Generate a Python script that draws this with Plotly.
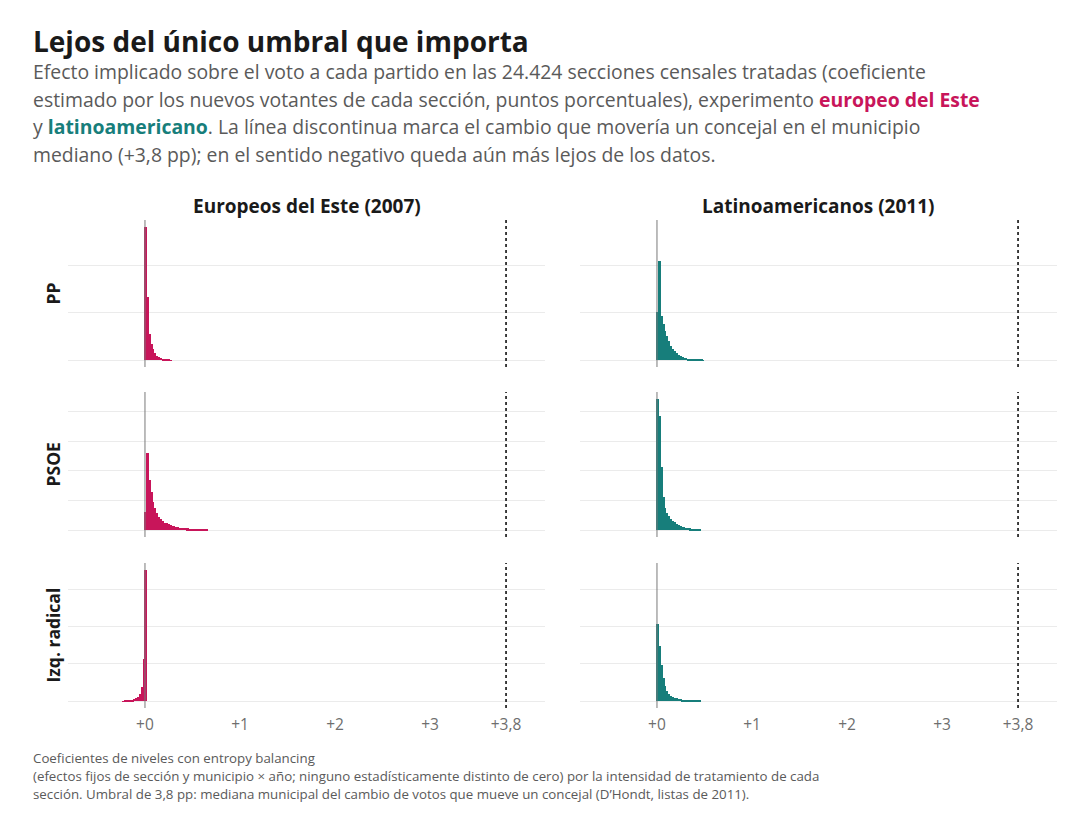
import plotly.graph_objects as go

# ---------------- DATA ----------------
ANCHO_BIN = 0.02  # pp
columnas = ["Europeos del Este (2007)", "Latinoamericanos (2011)"]
filas = ["PP", "PSOE", "Izq. radical"]

# counts of sections per bin (bins of 0.02 pp starting at *_inicio)
pp_este_inicio = 0.0
pp_este = [5640, 2690, 1100, 670, 460, 300, 170, 125, 85, 60, 40, 30, 20, 12]
pp_latam_inicio = 0.0
pp_latam = [2020, 4210, 1850, 1520, 1220, 1010, 800, 590, 460, 380, 295, 210,
            170, 125, 105, 85, 65, 50, 42, 34, 30, 25, 21, 17, 12]
psoe_este_inicio = 0.0
psoe_este = [630, 2600, 1700, 1300, 965, 765, 600, 465, 400, 300, 265, 233, 200,
             167, 150, 133, 117, 100, 93, 87, 80, 73, 67, 63, 60, 57, 53, 50, 47,
             43, 40, 33, 27]
psoe_latam_inicio = 0.0
psoe_latam = [4430, 3830, 2130, 1130, 765, 600, 500, 400, 333, 267, 217, 167, 133,
              117, 100, 83, 73, 67, 57, 50, 40, 33, 23]
izq_este_inicio = -0.24
izq_este = [10, 16, 22, 28, 36, 48, 62, 80, 107, 187, 375, 1120, 3520]
izq_latam_inicio = 0.0
izq_latam = [2055, 1470, 960, 615, 400, 280, 200, 147, 120, 93, 80, 69, 59, 51,
             43, 37, 32, 29, 27, 24, 19, 16, 13]

umbral = 3.8
x_ticks = [0, 1, 2, 3, 3.8]
x_tick_labels = ["+0", "+1", "+2", "+3", "+3,8"]
y_dtick = [2000, 1000, 1000]

paneles = [
    [(pp_este_inicio, pp_este), (pp_latam_inicio, pp_latam)],
    [(psoe_este_inicio, psoe_este), (psoe_latam_inicio, psoe_latam)],
    [(izq_este_inicio, izq_este), (izq_latam_inicio, izq_latam)],
]
colores = ["#C8155A", "#177E7B"]

# ---------------- LAYOUT HELPERS ----------------
W, H = 1092, 824
FONT = "Open Sans"


def fx(px):
    return px / W


def fy(px):
    return 1 - px / H


col_dom = [(68, 545), (580, 1057)]
row_dom = [(220, 367), (392, 537), (563, 708)]
x_range = [-0.81, 4.21]

fig = go.Figure()
layout = {}
shapes = []
annotations = []

for r in range(3):
    row_max = max(max(paneles[r][c][1]) for c in range(2))
    yr = [-0.05 * row_max, 1.05 * row_max]
    for c in range(2):
        idx = r * 2 + c + 1
        xn = "x" if idx == 1 else f"x{idx}"
        yn = "y" if idx == 1 else f"y{idx}"
        inicio, cuentas = paneles[r][c]
        centros = [inicio + (i + 0.5) * ANCHO_BIN for i in range(len(cuentas))]
        fig.add_trace(go.Bar(
            x=centros, y=cuentas, width=ANCHO_BIN,
            marker=dict(color=colores[c], line=dict(width=0)),
            xaxis=xn, yaxis=yn, showlegend=False, hoverinfo="skip",
        ))
        layout["xaxis" if idx == 1 else f"xaxis{idx}"] = dict(
            domain=[fx(col_dom[c][0]), fx(col_dom[c][1])],
            anchor=yn, range=x_range, showgrid=False, zeroline=False,
            tickvals=x_ticks, ticktext=x_tick_labels, showticklabels=(r == 2),
            tickfont=dict(family=FONT, size=15.5, color="#6e6e6e"), ticks="",
            showline=False, ticklabelstandoff=5,
        )
        layout["yaxis" if idx == 1 else f"yaxis{idx}"] = dict(
            domain=[fy(row_dom[r][1]), fy(row_dom[r][0])],
            anchor=xn, range=yr, showgrid=True, gridcolor="#EBEBEB",
            gridwidth=1, zeroline=False, tick0=0, dtick=y_dtick[r],
            showticklabels=False, ticks="", showline=False,
        )
        # zero line
        shapes.append(dict(type="line", xref=xn, yref=f"{yn} domain",
                           x0=0, x1=0, y0=0, y1=1, layer="above",
                           line=dict(color="#7a7a7a", width=1)))
        # threshold
        shapes.append(dict(type="line", xref=xn, yref=f"{yn} domain",
                           x0=umbral, x1=umbral, y0=0, y1=1, layer="above",
                           line=dict(color="#111111", width=1.6, dash="dot")))

# facet titles
for c in range(2):
    annotations.append(dict(
        text=f"<b>{columnas[c]}</b>", x=fx((col_dom[c][0] + col_dom[c][1]) / 2),
        y=fy(206), xref="paper", yref="paper", xanchor="center", yanchor="middle",
        showarrow=False, font=dict(family=FONT, size=19, color="#1a1a1a")))
# row labels
for r in range(3):
    annotations.append(dict(
        text=f"<b>{filas[r]}</b>", x=fx(52), y=fy((row_dom[r][0] + row_dom[r][1]) / 2),
        xref="paper", yref="paper", xanchor="center", yanchor="middle",
        textangle=-90, showarrow=False,
        font=dict(family=FONT, size=17.5, color="#1a1a1a")))

# title + subtitle
annotations.append(dict(
    text="<b>Lejos del único umbral que importa</b>", x=fx(31), y=fy(41),
    xref="paper", yref="paper", xanchor="left", yanchor="middle", showarrow=False,
    font=dict(family=FONT, size=28, color="#1a1a1a")))
sub_lines = [
    "Efecto implicado sobre el voto a cada partido en las 24.424 secciones censales tratadas (coeficiente",
    "estimado por los nuevos votantes de cada sección, puntos porcentuales), experimento "
    f"<b><span style='color:{colores[0]}'>europeo del Este</span></b>",
    f"y <b><span style='color:{colores[1]}'>latinoamericano</span></b>. La línea discontinua marca el cambio que movería un concejal en el municipio",
    "mediano (+3,8 pp); en el sentido negativo queda aún más lejos de los datos.",
]
for i, t in enumerate(sub_lines):
    annotations.append(dict(
        text=t, x=fx(31), y=fy(72 + i * 27.5), xref="paper", yref="paper",
        xanchor="left", yanchor="middle", showarrow=False,
        font=dict(family=FONT, size=19.4, color="#5a5a5a")))

cap_lines = [
    "Coeficientes de niveles con entropy balancing",
    "(efectos fijos de sección y municipio × año; ninguno estadísticamente distinto de cero) por la intensidad de tratamiento de cada",
    "sección. Umbral de 3,8 pp: mediana municipal del cambio de votos que mueve un concejal (D’Hondt, listas de 2011).",
]
for i, t in enumerate(cap_lines):
    annotations.append(dict(
        text=t, x=fx(31), y=fy(758 + i * 18), xref="paper", yref="paper",
        xanchor="left", yanchor="middle", showarrow=False,
        font=dict(family=FONT, size=13.3, color="#5a5a5a")))

fig.update_layout(
    width=W, height=H, margin=dict(l=0, r=0, t=0, b=0),
    paper_bgcolor="white", plot_bgcolor="white", bargap=0,
    shapes=shapes, annotations=annotations, **layout,
)

fig.write_html("out.html")
